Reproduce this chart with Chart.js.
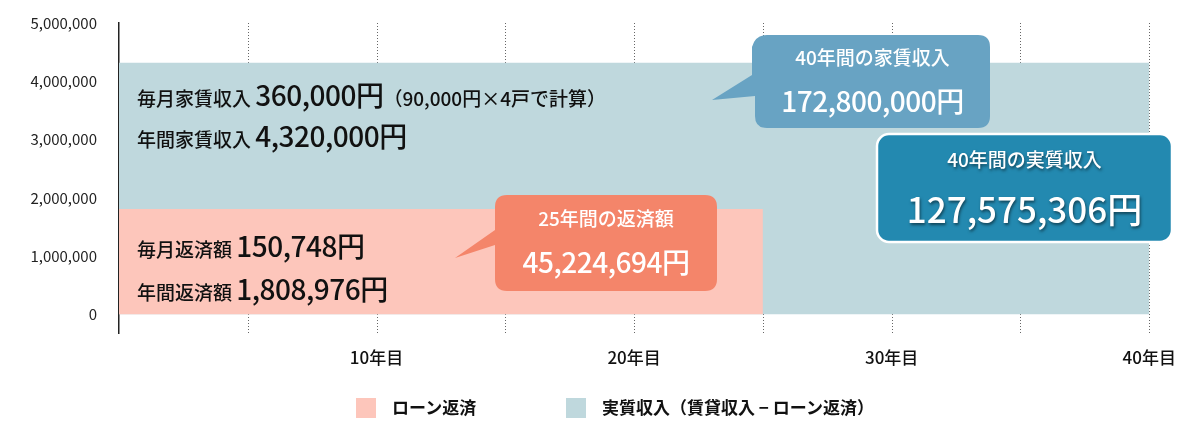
<!DOCTYPE html>
<html><head><meta charset="utf-8">
<script src="https://cdn.jsdelivr.net/npm/chart.js@4"></script>
<style>
body{margin:0;background:#fff;font-family:"Noto Sans CJK JP",sans-serif;}
#wrap{position:relative;width:1200px;height:430px;}
canvas{position:absolute;left:0;top:0;}
.t{position:absolute;white-space:nowrap;color:#111;font-weight:500;}
.s{font-size:19px;}.b{font-size:28px;letter-spacing:-0.5px;}
.w{color:#fff;text-align:center;}
svg{position:absolute;left:0;top:0;}
.lg{position:absolute;top:394px;font-size:17px;font-weight:700;color:#111;white-space:nowrap;}
.lg i{display:inline-block;width:20px;height:20px;vertical-align:-4px;margin-right:16px;}
</style></head><body>
<div id="wrap"><canvas id="c" width="1200" height="430"></canvas>
<svg width="1200" height="430">
<path d="M507 195 H705 Q717 195 717 207 V279 Q717 291 705 291 H507 Q495 291 495 279 V245 L455 258 L495 230 V207 Q495 195 507 195 Z" fill="#f4856a"/>
<path d="M767 35 H978 Q990 35 990 47 V116 Q990 128 978 128 H767 Q755 128 755 116 V96 L712 100 L752 75 V47 Q755 35 767 35 Z" fill="#68a3c3"/>
<rect x="877" y="134" width="295" height="108" rx="12" fill="#2389b0" stroke="#fff" stroke-width="2.5"/>
</svg>
<div class="t" style="left:137px;top:74px"><span class="s">毎月家賃収入 </span><span class="b">360,000円</span><span class="s">（90,000円×4戸で計算）</span></div>
<div class="t" style="left:137px;top:115px"><span class="s">年間家賃収入 </span><span class="b">4,320,000円</span></div>
<div class="t" style="left:137px;top:225px"><span class="s">毎月返済額 </span><span class="b">150,748円</span></div>
<div class="t" style="left:137px;top:268px"><span class="s">年間返済額 </span><span class="b">1,808,976円</span></div>
<div class="t w s" style="left:495px;width:222px;top:204px">25年間の返済額</div>
<div class="t w b" style="left:495px;width:222px;top:241px">45,224,694円</div>
<div class="t w s" style="left:755px;width:235px;top:43px">40年間の家賃収入</div>
<div class="t w b" style="left:755px;width:235px;top:80px">172,800,000円</div>
<div class="t w s" style="left:877px;width:295px;top:145px;text-shadow:1px 2px 3px rgba(0,0,0,.5)">40年間の実質収入</div>
<div class="t w" style="left:877px;width:295px;top:182px;font-size:35px;text-shadow:1px 2px 3px rgba(0,0,0,.5)">127,575,306円</div>
<div id="legend"></div>
</div>
<script>
const years=[0,25,40];
const rentIncome=4320000;
const loanPayment=1808976;
const yTicks=[0,1000000,2000000,3000000,4000000,5000000];
const xGrid=[5,10,15,20,25,30,35,40];
const xLabels={10:'10年目',20:'20年目',30:'30年目',40:'40年目'};
const seriesNames=['ローン返済','実質収入（賃貸収入 − ローン返済）'];
const colors=['#fdc6bb','#bfd8dd'];
const lg=document.getElementById('legend');
[[356,0],[566,1]].forEach(([x,i])=>{const d=document.createElement('div');d.className='lg';d.style.left=x+'px';d.innerHTML='<i style="background:'+colors[i]+'"></i>'+seriesNames[i];lg.appendChild(d);});
new Chart(document.getElementById('c'),{
type:'line',
data:{datasets:[
{label:seriesNames[0],data:[{x:years[0],y:loanPayment},{x:years[1],y:loanPayment}],fill:'origin',backgroundColor:colors[0],borderWidth:0,pointRadius:0,order:1},
{label:seriesNames[1],data:[{x:years[0],y:rentIncome},{x:years[2],y:rentIncome}],fill:'origin',backgroundColor:colors[1],borderWidth:0,pointRadius:0,order:2}
]},
options:{responsive:false,animation:false,events:[],
layout:{padding:{top:7,right:25,left:0,bottom:56}},
plugins:{tooltip:{enabled:false},legend:{display:false}},
scales:{
x:{type:'linear',min:0,max:41,
afterBuildTicks:a=>{a.ticks=xGrid.map(v=>({value:v}));},
ticks:{autoSkip:false,maxRotation:0,padding:6,color:'#111',font:{family:'Noto Sans CJK JP',size:17,weight:'500'},callback:v=>xLabels[v]||''},
grid:{display:false},border:{display:false}},
y:{min:-330000,max:5000000,
afterBuildTicks:a=>{a.ticks=yTicks.map(v=>({value:v}));},
afterFit:a=>{a.width=119;},
ticks:{padding:14,color:'#222',font:{family:'Noto Sans CJK JP',size:15},callback:v=>v.toLocaleString('en-US')},
grid:{display:false},border:{display:true,color:'#222',width:1.5}}
}},
plugins:[{id:'dash',beforeDatasetsDraw(ch){const x=ch.scales.x,c=ch.ctx,a=ch.chartArea;c.save();c.strokeStyle='#666';c.setLineDash([1,2]);c.lineWidth=1;xGrid.forEach(v=>{const px=Math.round(x.getPixelForValue(v))+0.5;c.beginPath();c.moveTo(px,a.top);c.lineTo(px,a.bottom);c.stroke();});c.restore();}}]
});
</script></body></html>
